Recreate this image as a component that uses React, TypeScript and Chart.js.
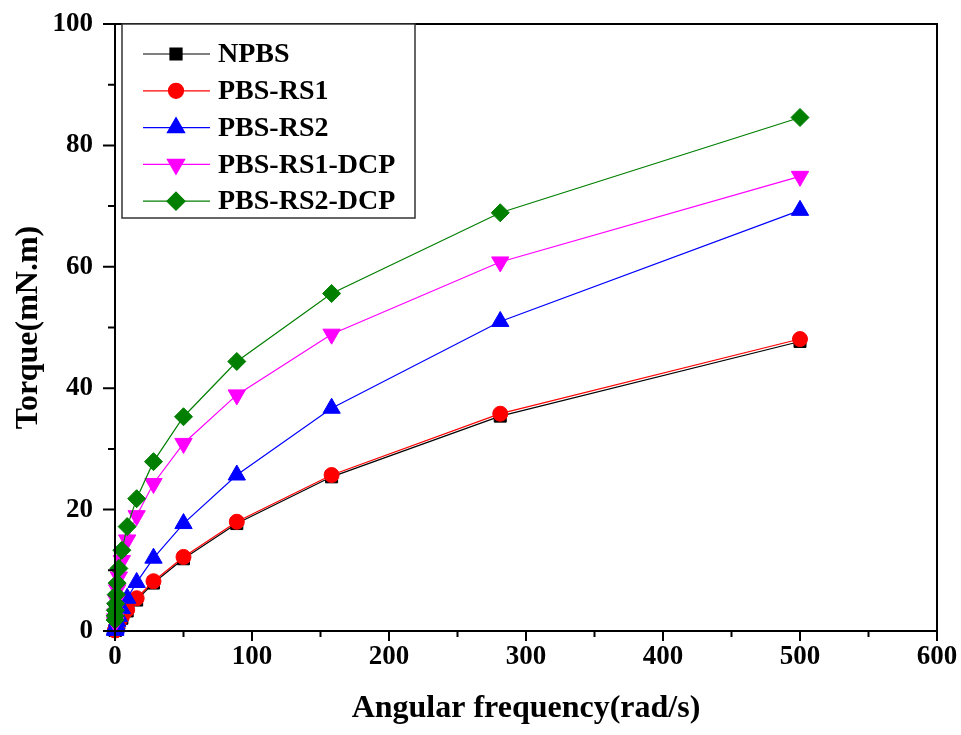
import React, { useEffect, useRef } from "react";
import { Chart, registerables } from "chart.js";
import { drawPoint } from "chart.js/helpers";

Chart.register(...registerables);

// Angular frequency (rad/s)
const frequency = [500, 281.2, 158.1, 88.9, 50, 28.1, 15.8, 8.89, 5, 2.81, 1.58, 0.889, 0.5, 0.281, 0.158, 0.0889];

// Torque (mN.m)
const npbs = [47.7, 35.4, 25.4, 17.7, 11.9, 7.9, 5.1, 3.3, 2.1, 1.3, 0.8, 0.5, 0.3, 0.2, 0.1, 0.1];
const pbsRs1 = [48.1, 35.8, 25.7, 18.0, 12.2, 8.2, 5.4, 3.5, 2.3, 1.5, 0.9, 0.6, 0.4, 0.2, 0.1, 0.1];
const pbsRs2 = [69.3, 51.0, 36.7, 25.7, 17.7, 12.0, 8.0, 5.4, 3.7, 2.4, 1.6, 1.0, 0.6, 0.4, 0.2, 0.1];
const pbsRs1Dcp = [74.9, 60.8, 48.9, 38.9, 30.9, 24.3, 19.0, 15.0, 11.6, 8.9, 6.8, 5.1, 3.8, 2.8, 2.0, 1.4];
const pbsRs2Dcp = [84.6, 68.9, 55.6, 44.4, 35.3, 27.9, 21.8, 17.2, 13.3, 10.3, 7.9, 6.0, 4.5, 3.4, 2.5, 1.8];

const seriesNames = ["NPBS", "PBS-RS1", "PBS-RS2", "PBS-RS1-DCP", "PBS-RS2-DCP"];
const seriesValues = [npbs, pbsRs1, pbsRs2, pbsRs1Dcp, pbsRs2Dcp];
const seriesColors = ["#000000", "#ff0000", "#0000ff", "#ff00ff", "#007f00"];
const seriesStyles = ["rect", "circle", "triangle", "triangle", "rectRot"];
const seriesRotation = [0, 0, 0, 180, 0];
const seriesRadius = [8.5, 7.5, 10, 10, 9];

const xTitle = "Angular frequency(rad/s)";
const yTitle = "Torque(mN.m)";

const FONT = '"Liberation Serif", "Times New Roman", serif';

const framePlugin = {
  id: "frameAndLegend",
  afterDatasetsDraw(chart: any) {
    const { ctx, chartArea, scales } = chart;
    const { left, top, right, bottom } = chartArea;
    const xs = scales.x;
    const ys = scales.y;
    ctx.save();
    ctx.strokeStyle = "#000";
    ctx.lineWidth = 2;
    ctx.strokeRect(left, top, right - left, bottom - top);

    ctx.lineWidth = 2;
    ctx.beginPath();
    const xt = xs.ticks.map((t: any) => t.value);
    xt.forEach((v: number, i: number) => {
      const px = xs.getPixelForValue(v);
      ctx.moveTo(px, bottom);
      ctx.lineTo(px, bottom + 10);
      if (i < xt.length - 1) {
        const m = xs.getPixelForValue((v + xt[i + 1]) / 2);
        ctx.moveTo(m, bottom);
        ctx.lineTo(m, bottom + 6);
      }
    });
    const yt = ys.ticks.map((t: any) => t.value);
    yt.forEach((v: number, i: number) => {
      const py = ys.getPixelForValue(v);
      ctx.moveTo(left, py);
      ctx.lineTo(left - 12, py);
      if (i < yt.length - 1) {
        const m = ys.getPixelForValue((v + yt[i + 1]) / 2);
        ctx.moveTo(left, m);
        ctx.lineTo(left - 7, m);
      }
    });
    ctx.stroke();

    // legend
    const bx = left + 7;
    const by = top;
    const bw = 293;
    const bh = 194;
    ctx.fillStyle = "#fff";
    ctx.fillRect(bx, by, bw, bh);
    ctx.strokeStyle = "#333";
    ctx.lineWidth = 1.5;
    ctx.strokeRect(bx, by, bw, bh);
    chart.data.datasets.forEach((ds: any, i: number) => {
      const cy = by + 30 + i * 36.8;
      ctx.strokeStyle = ds.borderColor;
      ctx.lineWidth = 1.2;
      ctx.beginPath();
      ctx.moveTo(bx + 21, cy);
      ctx.lineTo(bx + 88, cy);
      ctx.stroke();
      ctx.fillStyle = ds.pointBackgroundColor;
      ctx.strokeStyle = ds.pointBackgroundColor;
      drawPoint(ctx, {
        pointStyle: ds.pointStyle,
        radius: ds.pointRadius,
        rotation: ds.pointRotation,
        borderWidth: 1,
      } as any, bx + 54, cy);
      ctx.fillStyle = "#000";
      ctx.font = `bold 28px ${FONT}`;
      ctx.textBaseline = "middle";
      ctx.textAlign = "left";
      ctx.fillText(ds.label, bx + 96, cy + 1);
    });
    ctx.restore();
  },
};

export default function App() {
  const ref = useRef<HTMLCanvasElement | null>(null);
  useEffect(() => {
    document.body.style.margin = "0";
    const canvas = ref.current;
    if (!canvas) return;
    const datasets = seriesNames.map((name, i) => ({
      label: name,
      data: frequency.map((f, k) => ({ x: f, y: seriesValues[i][k] })),
      borderColor: seriesColors[i],
      backgroundColor: seriesColors[i],
      pointBackgroundColor: seriesColors[i],
      pointBorderColor: seriesColors[i],
      pointBorderWidth: 1,
      pointStyle: seriesStyles[i],
      pointRotation: seriesRotation[i],
      pointRadius: seriesRadius[i],
      borderWidth: 1.2,
      showLine: true,
      tension: 0,
      clip: false as any,
      order: seriesNames.length - i,
    }));
    const chart = new Chart(canvas, {
      type: "scatter",
      data: { datasets },
      options: {
        animation: false,
        responsive: false,
        events: [],
        layout: { padding: { top: 24, right: 24, left: 0, bottom: 0 } },
        plugins: {
          legend: { display: false },
          tooltip: { enabled: false },
        },
        scales: {
          x: {
            type: "linear",
            min: 0,
            max: 600,
            ticks: {
              stepSize: 100,
              color: "#000",
              padding: 10,
              font: { family: FONT, size: 27, weight: "bold" },
            },
            grid: { display: false, drawTicks: false },
            border: { display: false },
            title: {
              display: true,
              text: xTitle,
              color: "#000",
              padding: 7,
              font: { family: FONT, size: 32, weight: "bold" },
            },
            afterFit: (s: any) => {
              s.height = 104;
              s.paddingLeft = 0;
              s.paddingRight = 0;
            },
          },
          y: {
            type: "linear",
            min: 0,
            max: 100,
            ticks: {
              stepSize: 20,
              color: "#000",
              padding: 22,
              font: { family: FONT, size: 27, weight: "bold" },
            },
            grid: { display: false, drawTicks: false },
            border: { display: false },
            title: {
              display: true,
              text: yTitle,
              color: "#000",
              padding: 10,
              font: { family: FONT, size: 32, weight: "bold" },
            },
            afterFit: (s: any) => {
              s.width = 115;
              s.paddingTop = 0;
              s.paddingBottom = 0;
            },
          },
        },
      },
      plugins: [framePlugin],
    });
    return () => chart.destroy();
  }, []);
  return (
    <div style={{ width: 961, height: 735, background: "#fff" }}>
      <canvas ref={ref} width={961} height={735} style={{ display: "block" }} />
    </div>
  );
}
